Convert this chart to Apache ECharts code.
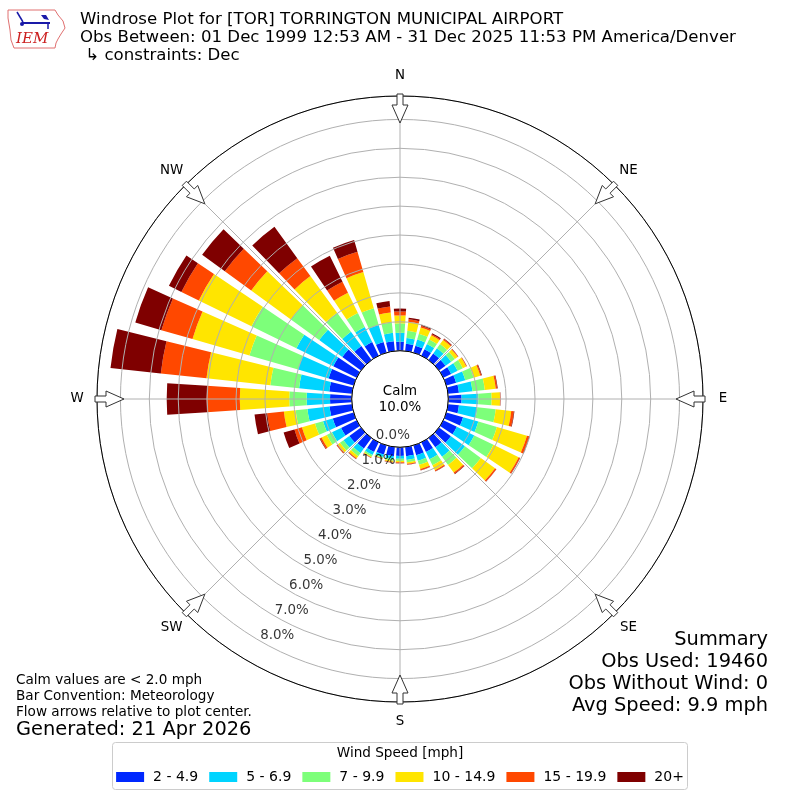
<!DOCTYPE html>
<html>
<head>
<meta charset="utf-8">
<title>Windrose TOR</title>
<script src="https://cdn.jsdelivr.net/npm/echarts@6/dist/echarts.min.js"></script>
<style>
  html, body { margin: 0; padding: 0; background: #fff; }
  #chart { width: 800px; height: 800px; }
</style>
</head>
<body>
<div id="chart"></div>
<script>
// direction bins (degrees, wind from), 10 degree bins
var directions = ['0','10','20','30','40','50','60','70','80','90','100','110',
  '120','130','140','150','160','170','180','190','200','210','220','230',
  '240','250','260','270','280','290','300','310','320','330','340','350'];

var speedBins = ['2 - 4.9', '5 - 6.9', '7 - 9.9', '10 - 14.9', '15 - 19.9', '20+'];
var binColors = ['#0028ff', '#00d4ff', '#7dff7a', '#ffe500', '#ff4800', '#7f0000'];

// frequency [%] per direction for each speed bin
var spd2to5 = [0.31,0.25,0.25,0.25,0.28,0.28,0.30,0.35,0.38,0.46,0.38,0.60,
  0.52,0.51,0.40,0.37,0.35,0.32,0.30,0.32,0.33,0.37,0.45,0.50,
  0.60,0.75,0.78,0.75,0.79,0.90,0.90,0.80,0.60,0.52,0.38,0.34];
var spd5to7 = [0.31,0.20,0.22,0.20,0.22,0.24,0.25,0.33,0.47,0.58,0.64,0.55,
  0.67,0.60,0.40,0.28,0.20,0.13,0.10,0.10,0.09,0.12,0.20,0.25,
  0.35,0.35,0.77,0.81,1.05,1.10,1.42,0.99,0.61,0.58,0.61,0.29];
var spd7to10 = [0.33,0.25,0.21,0.17,0.18,0.16,0.20,0.30,0.43,0.46,0.64,0.67,
  0.74,0.68,0.35,0.23,0.15,0.08,0.07,0.06,0.04,0.06,0.13,0.15,
  0.20,0.29,0.41,0.60,1.00,1.75,1.73,1.21,0.81,0.54,0.61,0.36];
var spd10to15 = [0.27,0.32,0.22,0.16,0.18,0.12,0.13,0.24,0.38,0.29,0.54,1.08,
  0.97,0.61,0.33,0.19,0.15,0.05,0.05,0.04,0.02,0.03,0.09,0.10,
  0.20,0.47,0.41,1.71,2.22,2.05,2.03,1.70,1.57,0.78,1.30,0.35];
var spd15to20 = [0.14,0.08,0.06,0.04,0.04,0.02,0.02,0.04,0.05,0.01,0.09,0.08,
  0.05,0.05,0.05,0.04,0.04,0.03,0.03,0.02,0.01,0.01,0.03,0.04,
  0.06,0.27,0.58,1.15,1.59,1.12,0.67,1.13,0.77,0.43,0.73,0.21];
var spd20up = [0.10,0.06,0.04,0.04,0.02,0.01,0.01,0.02,0.02,0.01,0.02,0.02,
  0.01,0.01,0.02,0.01,0.01,0.01,0.01,0.01,0.01,0.01,0.01,0.01,
  0.02,0.39,0.44,1.38,1.75,0.94,0.48,0.97,1.34,1.00,0.42,0.19];

var ringTicks = ['0.0%','1.0%','2.0%','3.0%','4.0%','5.0%','6.0%','7.0%','8.0%'];
var compass = ['N','NE','E','SE','S','SW','W','NW'];

var calmText = '10.0%';
var titleLines = [
  'Windrose Plot for [TOR] TORRINGTON MUNICIPAL AIRPORT',
  'Obs Between: 01 Dec 1999 12:53 AM - 31 Dec 2025 11:53 PM America/Denver',
  ' \u21b3 constraints: Dec'
];
var summaryLines = ['Summary', 'Obs Used: 19460', 'Obs Without Wind: 0', 'Avg Speed: 9.9 mph'];
var noteLines = ['Calm values are < 2.0 mph', 'Bar Convention: Meteorology', 'Flow arrows relative to plot center.'];

// plot geometry
var cx = 400, cy = 399, rIn = 48.3, rOut = 303;
var rMax = 8.81;
var labelBearing = 210;
var compassR = 323;
var FONT = '"DejaVu Sans", sans-serif';

var chart = echarts.init(document.getElementById('chart'));

var allBins = [spd2to5, spd5to7, spd7to10, spd10to15, spd15to20, spd20up];
var series = allBins.map(function (vals, i) {
  return {
    name: speedBins[i],
    type: 'bar',
    coordinateSystem: 'polar',
    polarIndex: 0,
    stack: 'wind',
    barCategoryGap: '22%',
    itemStyle: { color: binColors[i] },
    data: vals,
    z: 2
  };
});

// radial percent labels
series.push({
  type: 'scatter',
  coordinateSystem: 'polar',
  polarIndex: 1,
  symbolSize: 0,
  silent: true,
  z: 20,
  data: ringTicks.map(function (t, i) { return [i, labelBearing]; }),
  label: {
    show: true,
    position: 'inside',
    offset: [17, -5.5],
    formatter: function (p) { return ringTicks[p.dataIndex]; },
    fontSize: 13.4,
    fontFamily: FONT,
    color: '#000'
  }
});

// flow arrows pointing to centre
function arrowShape(bearing) {
  var b = bearing * Math.PI / 180;
  var ux = Math.sin(b), uy = -Math.cos(b);
  var px = Math.cos(b), py = Math.sin(b);
  var pts = [[305, -3], [294, -3], [294, -8], [276, 0], [294, 8], [294, 3], [305, 3]];
  return pts.map(function (q) {
    return [cx + q[0] * ux + q[1] * px, cy + q[0] * uy + q[1] * py];
  });
}

function txt(s, x, y, size, align, extra) {
  var o = {
    type: 'text', z: 100,
    style: { text: s, x: x, y: y, fill: '#000', font: size + 'px ' + FONT,
      textAlign: align || 'left', verticalAlign: 'middle' }
  };
  if (extra) { for (var k in extra) o.style[k] = extra[k]; }
  return o;
}

var graphics = [];
compass.forEach(function (c, i) {
  var b = i * 45 * Math.PI / 180;
  graphics.push({
    type: 'polygon', z: 100,
    shape: { points: arrowShape(i * 45) },
    style: { fill: '#fff', stroke: '#333', lineWidth: 1 }
  });
  graphics.push(txt(c, cx + compassR * Math.sin(b), cy - compassR * Math.cos(b), 13.4, 'center'));
});

titleLines.forEach(function (s, i) { graphics.push(txt(s, 80, 20 + i * 17.7, 16.6)); });
graphics.push(txt('Calm', cx, cy - 7, 13.4, 'center'));
graphics.push(txt(calmText, cx, cy + 8.5, 13.4, 'center'));
summaryLines.forEach(function (s, i) { graphics.push(txt(s, 768, 640 + i * 22, 19.4, 'right')); });
noteLines.forEach(function (s, i) { graphics.push(txt(s, 16, 680 + i * 16, 13.6)); });
graphics.push(txt('Generated: 21 Apr 2026', 16, 730, 19.4));

// legend frame and title
graphics.push({
  type: 'rect', z: 1,
  shape: { x: 112.5, y: 742.5, width: 575, height: 47, r: 3 },
  style: { fill: '#fff', stroke: '#cccccc', lineWidth: 1 }
});
graphics.push(txt('Wind Speed [mph]', 400, 753, 13.6, 'center'));

// IEM logo
graphics.push({
  type: 'polyline', z: 100,
  shape: { points: [[8,10],[55,10],[58,15],[63,21],[65,28],[61,34],[58,39],[56,43],[55,48],[14,48],[11,40],[10,30],[8,18],[8,10]] },
  style: { stroke: '#e07070', lineWidth: 1, fill: null }
});
graphics.push({
  type: 'line', z: 100,
  shape: { x1: 22, y1: 23, x2: 50, y2: 23 },
  style: { stroke: '#1a1aa8', lineWidth: 2 }
});
graphics.push({
  type: 'polyline', z: 100,
  shape: { points: [[17,12],[20,17],[23,22]] },
  style: { stroke: '#1a1aa8', lineWidth: 1.5, fill: null }
});
graphics.push({
  type: 'polygon', z: 100,
  shape: { points: [[41,15],[46,15],[49,20],[44,19]] },
  style: { fill: '#1a1aa8' }
});
graphics.push({
  type: 'line', z: 100,
  shape: { x1: 48, y1: 23, x2: 48, y2: 29 },
  style: { stroke: '#1a1aa8', lineWidth: 1.5 }
});
graphics.push({
  type: 'circle', z: 100,
  shape: { cx: 22, cy: 24, r: 2 },
  style: { fill: '#1a1aa8' }
});
graphics.push(txt('IEM', 16, 39, 15, 'left', {
  font: 'italic 15px "DejaVu Serif", serif', fill: '#cc2020' }));

var option = {
  animation: false,
  backgroundColor: '#fff',
  textStyle: { fontFamily: FONT },
  legend: {
    data: speedBins,
    left: 'center',
    top: 765,
    icon: 'rect',
    itemWidth: 28,
    itemHeight: 10,
    itemGap: 11,
    selectedMode: false,
    textStyle: { fontSize: 14, color: '#000', fontFamily: FONT, padding: [0, 0, 0, 4] }
  },
  polar: [
    { center: [cx, cy], radius: [rIn, rOut] },
    { center: [cx, cy], radius: [rIn, rOut] }
  ],
  angleAxis: [
    {
      polarIndex: 0,
      type: 'category',
      data: directions,
      startAngle: 95,
      clockwise: true,
      axisLine: { show: false },
      axisTick: { show: false },
      axisLabel: { show: false },
      splitLine: { show: false }
    },
    {
      polarIndex: 1,
      type: 'value',
      min: 0,
      max: 360,
      interval: 45,
      startAngle: 90,
      clockwise: true,
      z: 10,
      axisLine: { show: true, lineStyle: { color: '#000', width: 1 } },
      axisTick: { show: false },
      axisLabel: { show: false },
      splitLine: { show: true, lineStyle: { color: '#b0b0b0', width: 1 } }
    }
  ],
  radiusAxis: [
    { polarIndex: 0, min: 0, max: rMax, show: false },
    {
      polarIndex: 1,
      min: 0,
      max: rMax,
      interval: 1,
      z: 9,
      axisLine: { show: false },
      axisTick: { show: false },
      axisLabel: { show: false },
      splitLine: { show: true, lineStyle: { color: '#b0b0b0', width: 1 } }
    }
  ],
  graphic: graphics,
  series: series
};

chart.setOption(option);
</script>
</body>
</html>
